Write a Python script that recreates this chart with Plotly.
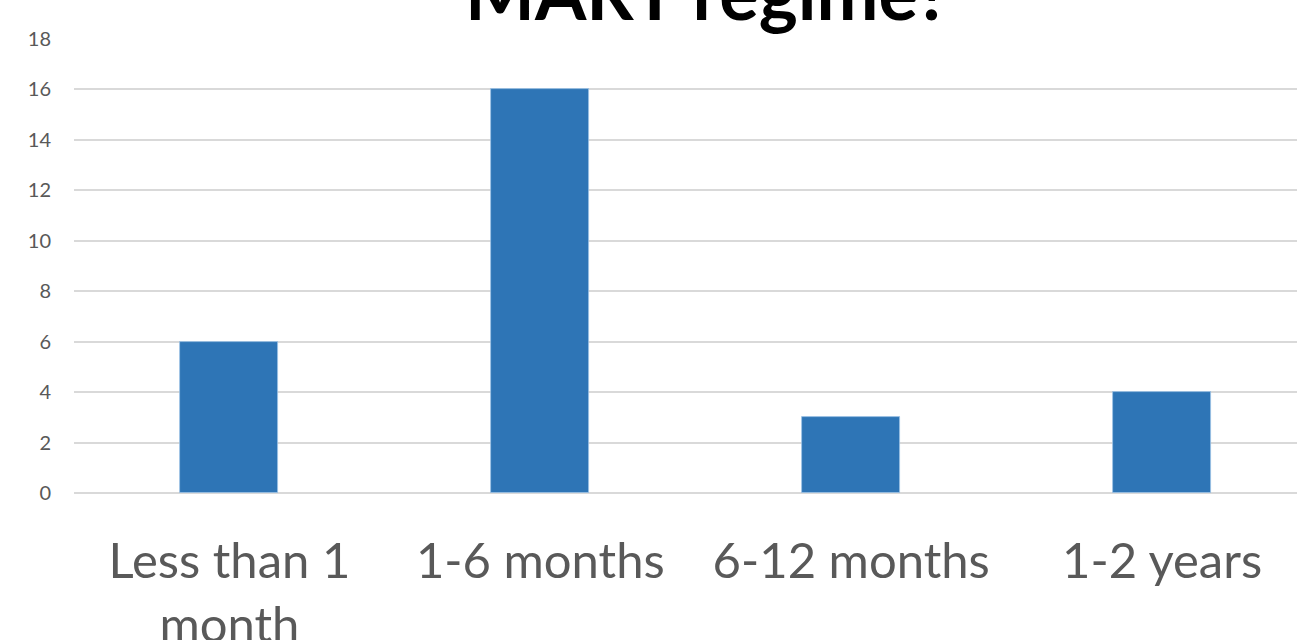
import plotly.graph_objects as go

categories = ["Less than 1<br>month", "1-6 months", "6-12 months", "1-2 years"]
values = [6, 16, 3, 4]
y_ticks = [0, 2, 4, 6, 8, 10, 12, 14, 16, 18]
title_text = "MART regime?"

fig = go.Figure()
fig.add_trace(go.Bar(
    x=list(range(len(categories))), y=values, width=0.315,
    marker=dict(color="#2E75B6", line=dict(color="#9DC3E6", width=0.8)),
))

fig.update_layout(
    width=1297, height=640,
    margin=dict(l=74, r=0, t=39, b=147),
    plot_bgcolor="white", paper_bgcolor="white",
    showlegend=False,
    bargap=0,
    font=dict(family="Lato", color="#595959"),
)
fig.update_xaxes(
    tickmode="array", tickvals=list(range(len(categories))), ticktext=categories,
    range=[-0.5, 3.434], showgrid=False, zeroline=False, showline=False,
    ticks="", tickfont=dict(size=49, color="#595959"), ticklabelstandoff=35,
    automargin=False,
)
fig.update_yaxes(
    range=[0, 18], tickmode="array", tickvals=y_ticks,
    showgrid=True, gridcolor="#D9D9D9", gridwidth=1.5,
    zeroline=True, zerolinecolor="#D9D9D9", zerolinewidth=1.5,
    showline=False, ticks="", tickfont=dict(size=20, color="#595959"),
    ticklabelstandoff=22, automargin=False,
)
fig.add_annotation(
    text=title_text, xref="paper", yref="paper", x=(707 - 74) / 1223, y=1 + (39 - 38) / 454,
    xanchor="center", yanchor="bottom", showarrow=False,
    font=dict(family="Lato", size=74, color="#000000", weight="bold"),
)
fig.write_html(
    "out.html",
    config={"displayModeBar": False},
    post_script="document.body.style.margin='0';document.body.style.overflow='hidden';",
)
